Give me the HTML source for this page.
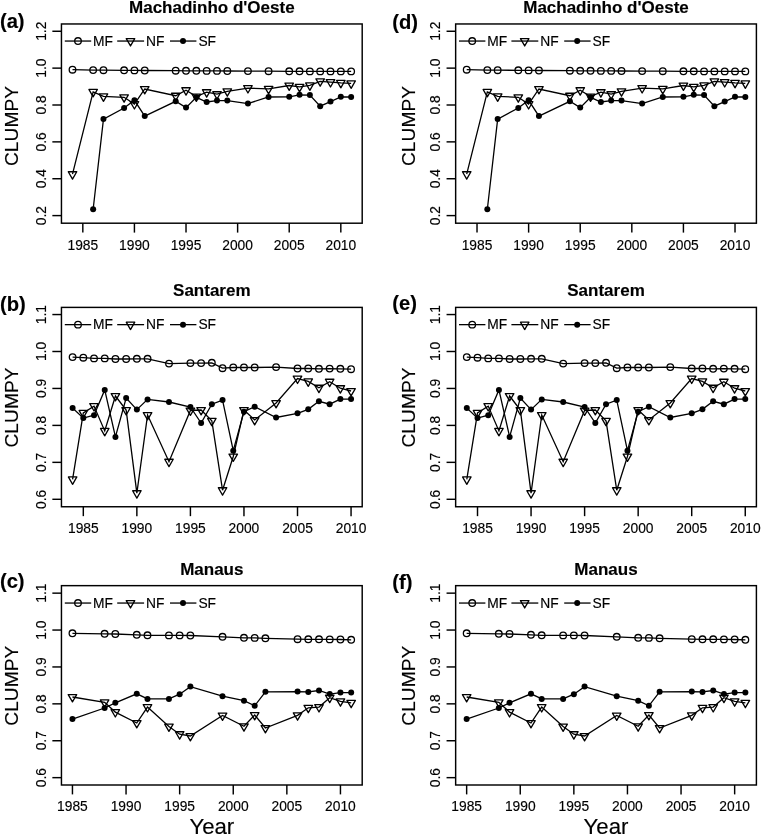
<!DOCTYPE html>
<html><head><meta charset="utf-8"><title>CLUMPY</title>
<style>html,body{margin:0;padding:0;background:#fff}body{width:761px;height:835px;overflow:hidden;font-family:"Liberation Sans",sans-serif}svg{display:block;will-change:transform}text{stroke:#000;stroke-width:0.15px}</style>
</head><body>
<svg width="761" height="835" viewBox="0 0 761 835">
<rect width="761" height="835" fill="#fff"/>
<g transform="translate(0.0,0)">
<rect x="61.45" y="23.97" width="300.75" height="199.23" fill="none" stroke="#000" stroke-width="1.45"/>
<line x1="52.35" y1="31.26" x2="61.45" y2="31.26" stroke="#000" stroke-width="1.45"/>
<text transform="translate(46.0,31.26) rotate(-90)" text-anchor="middle" font-size="13.8" font-family="Liberation Sans, sans-serif">1.2</text>
<line x1="52.35" y1="68.13" x2="61.45" y2="68.13" stroke="#000" stroke-width="1.45"/>
<text transform="translate(46.0,68.13) rotate(-90)" text-anchor="middle" font-size="13.8" font-family="Liberation Sans, sans-serif">1.0</text>
<line x1="52.35" y1="105.0" x2="61.45" y2="105.0" stroke="#000" stroke-width="1.45"/>
<text transform="translate(46.0,105.0) rotate(-90)" text-anchor="middle" font-size="13.8" font-family="Liberation Sans, sans-serif">0.8</text>
<line x1="52.35" y1="141.87" x2="61.45" y2="141.87" stroke="#000" stroke-width="1.45"/>
<text transform="translate(46.0,141.87) rotate(-90)" text-anchor="middle" font-size="13.8" font-family="Liberation Sans, sans-serif">0.6</text>
<line x1="52.35" y1="178.74" x2="61.45" y2="178.74" stroke="#000" stroke-width="1.45"/>
<text transform="translate(46.0,178.74) rotate(-90)" text-anchor="middle" font-size="13.8" font-family="Liberation Sans, sans-serif">0.4</text>
<line x1="52.35" y1="215.6" x2="61.45" y2="215.6" stroke="#000" stroke-width="1.45"/>
<text transform="translate(46.0,215.6) rotate(-90)" text-anchor="middle" font-size="13.8" font-family="Liberation Sans, sans-serif">0.2</text>
<line x1="82.82" y1="223.2" x2="82.82" y2="232.6" stroke="#000" stroke-width="1.45"/>
<text x="82.82" y="249.60" text-anchor="middle" font-size="13.8" font-family="Liberation Sans, sans-serif">1985</text>
<line x1="134.42" y1="223.2" x2="134.42" y2="232.6" stroke="#000" stroke-width="1.45"/>
<text x="134.42" y="249.60" text-anchor="middle" font-size="13.8" font-family="Liberation Sans, sans-serif">1990</text>
<line x1="186.02" y1="223.2" x2="186.02" y2="232.6" stroke="#000" stroke-width="1.45"/>
<text x="186.02" y="249.60" text-anchor="middle" font-size="13.8" font-family="Liberation Sans, sans-serif">1995</text>
<line x1="237.62" y1="223.2" x2="237.62" y2="232.6" stroke="#000" stroke-width="1.45"/>
<text x="237.62" y="249.60" text-anchor="middle" font-size="13.8" font-family="Liberation Sans, sans-serif">2000</text>
<line x1="289.22" y1="223.2" x2="289.22" y2="232.6" stroke="#000" stroke-width="1.45"/>
<text x="289.22" y="249.60" text-anchor="middle" font-size="13.8" font-family="Liberation Sans, sans-serif">2005</text>
<line x1="340.82" y1="223.2" x2="340.82" y2="232.6" stroke="#000" stroke-width="1.45"/>
<text x="340.82" y="249.60" text-anchor="middle" font-size="13.8" font-family="Liberation Sans, sans-serif">2010</text>
<text x="211.82" y="12.6" text-anchor="middle" font-weight="bold" font-size="17" font-family="Liberation Sans, sans-serif">Machadinho d&#39;Oeste</text>
<text x="-0.10" y="27.80" font-weight="bold" font-size="20.2" font-family="Liberation Sans, sans-serif">(a)</text>
<text transform="translate(17.6,126.0) rotate(-90)" text-anchor="middle" font-size="19.2" font-family="Liberation Sans, sans-serif">CLUMPY</text>
<line x1="64.8" y1="41.05" x2="91.2" y2="41.05" stroke="#000" stroke-width="1.3"/>
<circle cx="78.00" cy="41.05" r="3.3" fill="none" stroke="#000" stroke-width="1.3"/>
<text x="93.0" y="45.85" font-size="13.8" font-family="Liberation Sans, sans-serif">MF</text>
<line x1="117.2" y1="41.05" x2="144.1" y2="41.05" stroke="#000" stroke-width="1.3"/>
<path d="M126.25 38.60L134.75 38.60L130.50 45.95Z" fill="none" stroke="#000" stroke-width="1.3" stroke-linejoin="round"/>
<text x="146.0" y="45.85" font-size="13.8" font-family="Liberation Sans, sans-serif">NF</text>
<line x1="170.0" y1="41.05" x2="196.4" y2="41.05" stroke="#000" stroke-width="1.3"/>
<circle cx="183.00" cy="41.05" r="3.0" fill="#000"/>
<text x="198.4" y="45.85" font-size="13.8" font-family="Liberation Sans, sans-serif">SF</text>
<polyline points="72.50,69.70 93.14,70.10 103.46,70.20 124.10,70.30 134.42,70.40 144.74,70.50 175.70,70.70 186.02,70.80 196.34,70.80 206.66,70.90 216.98,70.90 227.30,71.00 247.94,71.10 268.58,71.20 289.22,71.30 299.54,71.30 309.86,71.40 320.18,71.40 330.50,71.40 340.82,71.40 351.14,71.40" fill="none" stroke="#000" stroke-width="1.3"/>
<circle cx="72.50" cy="69.70" r="3.3" fill="none" stroke="#000" stroke-width="1.3"/>
<circle cx="93.14" cy="70.10" r="3.3" fill="none" stroke="#000" stroke-width="1.3"/>
<circle cx="103.46" cy="70.20" r="3.3" fill="none" stroke="#000" stroke-width="1.3"/>
<circle cx="124.10" cy="70.30" r="3.3" fill="none" stroke="#000" stroke-width="1.3"/>
<circle cx="134.42" cy="70.40" r="3.3" fill="none" stroke="#000" stroke-width="1.3"/>
<circle cx="144.74" cy="70.50" r="3.3" fill="none" stroke="#000" stroke-width="1.3"/>
<circle cx="175.70" cy="70.70" r="3.3" fill="none" stroke="#000" stroke-width="1.3"/>
<circle cx="186.02" cy="70.80" r="3.3" fill="none" stroke="#000" stroke-width="1.3"/>
<circle cx="196.34" cy="70.80" r="3.3" fill="none" stroke="#000" stroke-width="1.3"/>
<circle cx="206.66" cy="70.90" r="3.3" fill="none" stroke="#000" stroke-width="1.3"/>
<circle cx="216.98" cy="70.90" r="3.3" fill="none" stroke="#000" stroke-width="1.3"/>
<circle cx="227.30" cy="71.00" r="3.3" fill="none" stroke="#000" stroke-width="1.3"/>
<circle cx="247.94" cy="71.10" r="3.3" fill="none" stroke="#000" stroke-width="1.3"/>
<circle cx="268.58" cy="71.20" r="3.3" fill="none" stroke="#000" stroke-width="1.3"/>
<circle cx="289.22" cy="71.30" r="3.3" fill="none" stroke="#000" stroke-width="1.3"/>
<circle cx="299.54" cy="71.30" r="3.3" fill="none" stroke="#000" stroke-width="1.3"/>
<circle cx="309.86" cy="71.40" r="3.3" fill="none" stroke="#000" stroke-width="1.3"/>
<circle cx="320.18" cy="71.40" r="3.3" fill="none" stroke="#000" stroke-width="1.3"/>
<circle cx="330.50" cy="71.40" r="3.3" fill="none" stroke="#000" stroke-width="1.3"/>
<circle cx="340.82" cy="71.40" r="3.3" fill="none" stroke="#000" stroke-width="1.3"/>
<circle cx="351.14" cy="71.40" r="3.3" fill="none" stroke="#000" stroke-width="1.3"/>
<polyline points="72.50,174.20 93.14,91.90 103.46,96.40 124.10,97.30 134.42,104.10 144.74,89.00 175.70,95.70 186.02,90.20 196.34,96.50 206.66,92.20 216.98,94.20 227.30,91.30 247.94,88.10 268.58,88.90 289.22,85.50 299.54,86.90 309.86,85.40 320.18,81.30 330.50,82.10 340.82,82.90 351.14,83.40" fill="none" stroke="#000" stroke-width="1.3"/>
<path d="M68.25 171.75L76.75 171.75L72.50 179.10Z" fill="none" stroke="#000" stroke-width="1.3" stroke-linejoin="round"/>
<path d="M88.89 89.45L97.39 89.45L93.14 96.80Z" fill="none" stroke="#000" stroke-width="1.3" stroke-linejoin="round"/>
<path d="M99.21 93.95L107.71 93.95L103.46 101.30Z" fill="none" stroke="#000" stroke-width="1.3" stroke-linejoin="round"/>
<path d="M119.85 94.85L128.35 94.85L124.10 102.20Z" fill="none" stroke="#000" stroke-width="1.3" stroke-linejoin="round"/>
<path d="M130.17 101.65L138.67 101.65L134.42 109.00Z" fill="none" stroke="#000" stroke-width="1.3" stroke-linejoin="round"/>
<path d="M140.49 86.55L148.99 86.55L144.74 93.90Z" fill="none" stroke="#000" stroke-width="1.3" stroke-linejoin="round"/>
<path d="M171.45 93.25L179.95 93.25L175.70 100.60Z" fill="none" stroke="#000" stroke-width="1.3" stroke-linejoin="round"/>
<path d="M181.77 87.75L190.27 87.75L186.02 95.10Z" fill="none" stroke="#000" stroke-width="1.3" stroke-linejoin="round"/>
<path d="M192.09 94.05L200.59 94.05L196.34 101.40Z" fill="none" stroke="#000" stroke-width="1.3" stroke-linejoin="round"/>
<path d="M202.41 89.75L210.91 89.75L206.66 97.10Z" fill="none" stroke="#000" stroke-width="1.3" stroke-linejoin="round"/>
<path d="M212.73 91.75L221.23 91.75L216.98 99.10Z" fill="none" stroke="#000" stroke-width="1.3" stroke-linejoin="round"/>
<path d="M223.05 88.85L231.55 88.85L227.30 96.20Z" fill="none" stroke="#000" stroke-width="1.3" stroke-linejoin="round"/>
<path d="M243.69 85.65L252.19 85.65L247.94 93.00Z" fill="none" stroke="#000" stroke-width="1.3" stroke-linejoin="round"/>
<path d="M264.33 86.45L272.83 86.45L268.58 93.80Z" fill="none" stroke="#000" stroke-width="1.3" stroke-linejoin="round"/>
<path d="M284.97 83.05L293.47 83.05L289.22 90.40Z" fill="none" stroke="#000" stroke-width="1.3" stroke-linejoin="round"/>
<path d="M295.29 84.45L303.79 84.45L299.54 91.80Z" fill="none" stroke="#000" stroke-width="1.3" stroke-linejoin="round"/>
<path d="M305.61 82.95L314.11 82.95L309.86 90.30Z" fill="none" stroke="#000" stroke-width="1.3" stroke-linejoin="round"/>
<path d="M315.93 78.85L324.43 78.85L320.18 86.20Z" fill="none" stroke="#000" stroke-width="1.3" stroke-linejoin="round"/>
<path d="M326.25 79.65L334.75 79.65L330.50 87.00Z" fill="none" stroke="#000" stroke-width="1.3" stroke-linejoin="round"/>
<path d="M336.57 80.45L345.07 80.45L340.82 87.80Z" fill="none" stroke="#000" stroke-width="1.3" stroke-linejoin="round"/>
<path d="M346.89 80.95L355.39 80.95L351.14 88.30Z" fill="none" stroke="#000" stroke-width="1.3" stroke-linejoin="round"/>
<polyline points="93.14,209.20 103.46,119.10 124.10,108.00 134.42,100.30 144.74,116.10 175.70,101.30 186.02,107.60 196.34,97.30 206.66,102.00 216.98,100.60 227.30,100.60 247.94,103.60 268.58,97.00 289.22,96.80 299.54,94.80 309.86,95.10 320.18,106.20 330.50,101.60 340.82,96.80 351.14,97.00" fill="none" stroke="#000" stroke-width="1.3"/>
<circle cx="93.14" cy="209.20" r="3.0" fill="#000"/>
<circle cx="103.46" cy="119.10" r="3.0" fill="#000"/>
<circle cx="124.10" cy="108.00" r="3.0" fill="#000"/>
<circle cx="134.42" cy="100.30" r="3.0" fill="#000"/>
<circle cx="144.74" cy="116.10" r="3.0" fill="#000"/>
<circle cx="175.70" cy="101.30" r="3.0" fill="#000"/>
<circle cx="186.02" cy="107.60" r="3.0" fill="#000"/>
<circle cx="196.34" cy="97.30" r="3.0" fill="#000"/>
<circle cx="206.66" cy="102.00" r="3.0" fill="#000"/>
<circle cx="216.98" cy="100.60" r="3.0" fill="#000"/>
<circle cx="227.30" cy="100.60" r="3.0" fill="#000"/>
<circle cx="247.94" cy="103.60" r="3.0" fill="#000"/>
<circle cx="268.58" cy="97.00" r="3.0" fill="#000"/>
<circle cx="289.22" cy="96.80" r="3.0" fill="#000"/>
<circle cx="299.54" cy="94.80" r="3.0" fill="#000"/>
<circle cx="309.86" cy="95.10" r="3.0" fill="#000"/>
<circle cx="320.18" cy="106.20" r="3.0" fill="#000"/>
<circle cx="330.50" cy="101.60" r="3.0" fill="#000"/>
<circle cx="340.82" cy="96.80" r="3.0" fill="#000"/>
<circle cx="351.14" cy="97.00" r="3.0" fill="#000"/>
</g>
<g transform="translate(0.0,0)">
<rect x="61.45" y="307.4" width="300.75" height="199.35000000000002" fill="none" stroke="#000" stroke-width="1.45"/>
<line x1="52.35" y1="314.55" x2="61.45" y2="314.55" stroke="#000" stroke-width="1.45"/>
<text transform="translate(46.0,314.55) rotate(-90)" text-anchor="middle" font-size="13.8" font-family="Liberation Sans, sans-serif">1.1</text>
<line x1="52.35" y1="351.5" x2="61.45" y2="351.5" stroke="#000" stroke-width="1.45"/>
<text transform="translate(46.0,351.5) rotate(-90)" text-anchor="middle" font-size="13.8" font-family="Liberation Sans, sans-serif">1.0</text>
<line x1="52.35" y1="388.45" x2="61.45" y2="388.45" stroke="#000" stroke-width="1.45"/>
<text transform="translate(46.0,388.45) rotate(-90)" text-anchor="middle" font-size="13.8" font-family="Liberation Sans, sans-serif">0.9</text>
<line x1="52.35" y1="425.4" x2="61.45" y2="425.4" stroke="#000" stroke-width="1.45"/>
<text transform="translate(46.0,425.4) rotate(-90)" text-anchor="middle" font-size="13.8" font-family="Liberation Sans, sans-serif">0.8</text>
<line x1="52.35" y1="462.35" x2="61.45" y2="462.35" stroke="#000" stroke-width="1.45"/>
<text transform="translate(46.0,462.35) rotate(-90)" text-anchor="middle" font-size="13.8" font-family="Liberation Sans, sans-serif">0.7</text>
<line x1="52.35" y1="499.3" x2="61.45" y2="499.3" stroke="#000" stroke-width="1.45"/>
<text transform="translate(46.0,499.3) rotate(-90)" text-anchor="middle" font-size="13.8" font-family="Liberation Sans, sans-serif">0.6</text>
<line x1="83.31" y1="506.75" x2="83.31" y2="516.15" stroke="#000" stroke-width="1.45"/>
<text x="83.31" y="533.15" text-anchor="middle" font-size="13.8" font-family="Liberation Sans, sans-serif">1985</text>
<line x1="136.86" y1="506.75" x2="136.86" y2="516.15" stroke="#000" stroke-width="1.45"/>
<text x="136.86" y="533.15" text-anchor="middle" font-size="13.8" font-family="Liberation Sans, sans-serif">1990</text>
<line x1="190.41" y1="506.75" x2="190.41" y2="516.15" stroke="#000" stroke-width="1.45"/>
<text x="190.41" y="533.15" text-anchor="middle" font-size="13.8" font-family="Liberation Sans, sans-serif">1995</text>
<line x1="243.96" y1="506.75" x2="243.96" y2="516.15" stroke="#000" stroke-width="1.45"/>
<text x="243.96" y="533.15" text-anchor="middle" font-size="13.8" font-family="Liberation Sans, sans-serif">2000</text>
<line x1="297.51" y1="506.75" x2="297.51" y2="516.15" stroke="#000" stroke-width="1.45"/>
<text x="297.51" y="533.15" text-anchor="middle" font-size="13.8" font-family="Liberation Sans, sans-serif">2005</text>
<line x1="351.06" y1="506.75" x2="351.06" y2="516.15" stroke="#000" stroke-width="1.45"/>
<text x="351.06" y="533.15" text-anchor="middle" font-size="13.8" font-family="Liberation Sans, sans-serif">2010</text>
<text x="211.82" y="296.3" text-anchor="middle" font-weight="bold" font-size="17" font-family="Liberation Sans, sans-serif">Santarem</text>
<text x="-0.10" y="310.50" font-weight="bold" font-size="20.2" font-family="Liberation Sans, sans-serif">(b)</text>
<text transform="translate(17.6,407.5) rotate(-90)" text-anchor="middle" font-size="19.2" font-family="Liberation Sans, sans-serif">CLUMPY</text>
<line x1="64.8" y1="324.65" x2="91.2" y2="324.65" stroke="#000" stroke-width="1.3"/>
<circle cx="78.00" cy="324.65" r="3.3" fill="none" stroke="#000" stroke-width="1.3"/>
<text x="93.0" y="329.45" font-size="13.8" font-family="Liberation Sans, sans-serif">MF</text>
<line x1="117.2" y1="324.65" x2="144.1" y2="324.65" stroke="#000" stroke-width="1.3"/>
<path d="M126.25 322.20L134.75 322.20L130.50 329.55Z" fill="none" stroke="#000" stroke-width="1.3" stroke-linejoin="round"/>
<text x="146.0" y="329.45" font-size="13.8" font-family="Liberation Sans, sans-serif">NF</text>
<line x1="170.0" y1="324.65" x2="196.4" y2="324.65" stroke="#000" stroke-width="1.3"/>
<circle cx="183.00" cy="324.65" r="3.0" fill="#000"/>
<text x="198.4" y="329.45" font-size="13.8" font-family="Liberation Sans, sans-serif">SF</text>
<polyline points="72.60,357.10 83.31,357.70 94.02,358.40 104.73,358.40 115.44,359.00 126.15,359.00 136.86,358.80 147.57,358.80 168.99,363.60 190.41,363.10 201.12,363.10 211.83,362.80 222.54,368.20 233.25,367.50 243.96,367.50 254.67,367.50 276.09,367.10 297.51,368.50 308.22,368.50 318.93,368.80 329.64,368.60 340.35,368.80 351.06,369.20" fill="none" stroke="#000" stroke-width="1.3"/>
<circle cx="72.60" cy="357.10" r="3.3" fill="none" stroke="#000" stroke-width="1.3"/>
<circle cx="83.31" cy="357.70" r="3.3" fill="none" stroke="#000" stroke-width="1.3"/>
<circle cx="94.02" cy="358.40" r="3.3" fill="none" stroke="#000" stroke-width="1.3"/>
<circle cx="104.73" cy="358.40" r="3.3" fill="none" stroke="#000" stroke-width="1.3"/>
<circle cx="115.44" cy="359.00" r="3.3" fill="none" stroke="#000" stroke-width="1.3"/>
<circle cx="126.15" cy="359.00" r="3.3" fill="none" stroke="#000" stroke-width="1.3"/>
<circle cx="136.86" cy="358.80" r="3.3" fill="none" stroke="#000" stroke-width="1.3"/>
<circle cx="147.57" cy="358.80" r="3.3" fill="none" stroke="#000" stroke-width="1.3"/>
<circle cx="168.99" cy="363.60" r="3.3" fill="none" stroke="#000" stroke-width="1.3"/>
<circle cx="190.41" cy="363.10" r="3.3" fill="none" stroke="#000" stroke-width="1.3"/>
<circle cx="201.12" cy="363.10" r="3.3" fill="none" stroke="#000" stroke-width="1.3"/>
<circle cx="211.83" cy="362.80" r="3.3" fill="none" stroke="#000" stroke-width="1.3"/>
<circle cx="222.54" cy="368.20" r="3.3" fill="none" stroke="#000" stroke-width="1.3"/>
<circle cx="233.25" cy="367.50" r="3.3" fill="none" stroke="#000" stroke-width="1.3"/>
<circle cx="243.96" cy="367.50" r="3.3" fill="none" stroke="#000" stroke-width="1.3"/>
<circle cx="254.67" cy="367.50" r="3.3" fill="none" stroke="#000" stroke-width="1.3"/>
<circle cx="276.09" cy="367.10" r="3.3" fill="none" stroke="#000" stroke-width="1.3"/>
<circle cx="297.51" cy="368.50" r="3.3" fill="none" stroke="#000" stroke-width="1.3"/>
<circle cx="308.22" cy="368.50" r="3.3" fill="none" stroke="#000" stroke-width="1.3"/>
<circle cx="318.93" cy="368.80" r="3.3" fill="none" stroke="#000" stroke-width="1.3"/>
<circle cx="329.64" cy="368.60" r="3.3" fill="none" stroke="#000" stroke-width="1.3"/>
<circle cx="340.35" cy="368.80" r="3.3" fill="none" stroke="#000" stroke-width="1.3"/>
<circle cx="351.06" cy="369.20" r="3.3" fill="none" stroke="#000" stroke-width="1.3"/>
<polyline points="72.60,479.40 83.31,412.90 94.02,406.10 104.73,430.90 115.44,396.00 126.15,410.10 136.86,493.20 147.57,415.00 168.99,461.70 190.41,410.50 201.12,410.00 211.83,420.90 222.54,490.20 233.25,456.50 243.96,410.00 254.67,420.00 276.09,403.00 297.51,378.60 308.22,381.40 318.93,387.70 329.64,381.70 340.35,388.20 351.06,391.00" fill="none" stroke="#000" stroke-width="1.3"/>
<path d="M68.35 476.95L76.85 476.95L72.60 484.30Z" fill="none" stroke="#000" stroke-width="1.3" stroke-linejoin="round"/>
<path d="M79.06 410.45L87.56 410.45L83.31 417.80Z" fill="none" stroke="#000" stroke-width="1.3" stroke-linejoin="round"/>
<path d="M89.77 403.65L98.27 403.65L94.02 411.00Z" fill="none" stroke="#000" stroke-width="1.3" stroke-linejoin="round"/>
<path d="M100.48 428.45L108.98 428.45L104.73 435.80Z" fill="none" stroke="#000" stroke-width="1.3" stroke-linejoin="round"/>
<path d="M111.19 393.55L119.69 393.55L115.44 400.90Z" fill="none" stroke="#000" stroke-width="1.3" stroke-linejoin="round"/>
<path d="M121.90 407.65L130.40 407.65L126.15 415.00Z" fill="none" stroke="#000" stroke-width="1.3" stroke-linejoin="round"/>
<path d="M132.61 490.75L141.11 490.75L136.86 498.10Z" fill="none" stroke="#000" stroke-width="1.3" stroke-linejoin="round"/>
<path d="M143.32 412.55L151.82 412.55L147.57 419.90Z" fill="none" stroke="#000" stroke-width="1.3" stroke-linejoin="round"/>
<path d="M164.74 459.25L173.24 459.25L168.99 466.60Z" fill="none" stroke="#000" stroke-width="1.3" stroke-linejoin="round"/>
<path d="M186.16 408.05L194.66 408.05L190.41 415.40Z" fill="none" stroke="#000" stroke-width="1.3" stroke-linejoin="round"/>
<path d="M196.87 407.55L205.37 407.55L201.12 414.90Z" fill="none" stroke="#000" stroke-width="1.3" stroke-linejoin="round"/>
<path d="M207.58 418.45L216.08 418.45L211.83 425.80Z" fill="none" stroke="#000" stroke-width="1.3" stroke-linejoin="round"/>
<path d="M218.29 487.75L226.79 487.75L222.54 495.10Z" fill="none" stroke="#000" stroke-width="1.3" stroke-linejoin="round"/>
<path d="M229.00 454.05L237.50 454.05L233.25 461.40Z" fill="none" stroke="#000" stroke-width="1.3" stroke-linejoin="round"/>
<path d="M239.71 407.55L248.21 407.55L243.96 414.90Z" fill="none" stroke="#000" stroke-width="1.3" stroke-linejoin="round"/>
<path d="M250.42 417.55L258.92 417.55L254.67 424.90Z" fill="none" stroke="#000" stroke-width="1.3" stroke-linejoin="round"/>
<path d="M271.84 400.55L280.34 400.55L276.09 407.90Z" fill="none" stroke="#000" stroke-width="1.3" stroke-linejoin="round"/>
<path d="M293.26 376.15L301.76 376.15L297.51 383.50Z" fill="none" stroke="#000" stroke-width="1.3" stroke-linejoin="round"/>
<path d="M303.97 378.95L312.47 378.95L308.22 386.30Z" fill="none" stroke="#000" stroke-width="1.3" stroke-linejoin="round"/>
<path d="M314.68 385.25L323.18 385.25L318.93 392.60Z" fill="none" stroke="#000" stroke-width="1.3" stroke-linejoin="round"/>
<path d="M325.39 379.25L333.89 379.25L329.64 386.60Z" fill="none" stroke="#000" stroke-width="1.3" stroke-linejoin="round"/>
<path d="M336.10 385.75L344.60 385.75L340.35 393.10Z" fill="none" stroke="#000" stroke-width="1.3" stroke-linejoin="round"/>
<path d="M346.81 388.55L355.31 388.55L351.06 395.90Z" fill="none" stroke="#000" stroke-width="1.3" stroke-linejoin="round"/>
<polyline points="72.60,408.00 83.31,418.10 94.02,415.20 104.73,389.90 115.44,436.90 126.15,398.10 136.86,409.60 147.57,399.40 168.99,402.00 190.41,407.00 201.12,423.00 211.83,404.20 222.54,400.10 233.25,450.70 243.96,411.70 254.67,406.70 276.09,417.50 297.51,413.30 308.22,409.30 318.93,401.30 329.64,404.20 340.35,399.10 351.06,399.10" fill="none" stroke="#000" stroke-width="1.3"/>
<circle cx="72.60" cy="408.00" r="3.0" fill="#000"/>
<circle cx="83.31" cy="418.10" r="3.0" fill="#000"/>
<circle cx="94.02" cy="415.20" r="3.0" fill="#000"/>
<circle cx="104.73" cy="389.90" r="3.0" fill="#000"/>
<circle cx="115.44" cy="436.90" r="3.0" fill="#000"/>
<circle cx="126.15" cy="398.10" r="3.0" fill="#000"/>
<circle cx="136.86" cy="409.60" r="3.0" fill="#000"/>
<circle cx="147.57" cy="399.40" r="3.0" fill="#000"/>
<circle cx="168.99" cy="402.00" r="3.0" fill="#000"/>
<circle cx="190.41" cy="407.00" r="3.0" fill="#000"/>
<circle cx="201.12" cy="423.00" r="3.0" fill="#000"/>
<circle cx="211.83" cy="404.20" r="3.0" fill="#000"/>
<circle cx="222.54" cy="400.10" r="3.0" fill="#000"/>
<circle cx="233.25" cy="450.70" r="3.0" fill="#000"/>
<circle cx="243.96" cy="411.70" r="3.0" fill="#000"/>
<circle cx="254.67" cy="406.70" r="3.0" fill="#000"/>
<circle cx="276.09" cy="417.50" r="3.0" fill="#000"/>
<circle cx="297.51" cy="413.30" r="3.0" fill="#000"/>
<circle cx="308.22" cy="409.30" r="3.0" fill="#000"/>
<circle cx="318.93" cy="401.30" r="3.0" fill="#000"/>
<circle cx="329.64" cy="404.20" r="3.0" fill="#000"/>
<circle cx="340.35" cy="399.10" r="3.0" fill="#000"/>
<circle cx="351.06" cy="399.10" r="3.0" fill="#000"/>
</g>
<g transform="translate(0.0,0)">
<rect x="61.45" y="585.65" width="300.75" height="199.35000000000002" fill="none" stroke="#000" stroke-width="1.45"/>
<line x1="52.35" y1="593.15" x2="61.45" y2="593.15" stroke="#000" stroke-width="1.45"/>
<text transform="translate(46.0,593.15) rotate(-90)" text-anchor="middle" font-size="13.8" font-family="Liberation Sans, sans-serif">1.1</text>
<line x1="52.35" y1="630.05" x2="61.45" y2="630.05" stroke="#000" stroke-width="1.45"/>
<text transform="translate(46.0,630.05) rotate(-90)" text-anchor="middle" font-size="13.8" font-family="Liberation Sans, sans-serif">1.0</text>
<line x1="52.35" y1="666.95" x2="61.45" y2="666.95" stroke="#000" stroke-width="1.45"/>
<text transform="translate(46.0,666.95) rotate(-90)" text-anchor="middle" font-size="13.8" font-family="Liberation Sans, sans-serif">0.9</text>
<line x1="52.35" y1="703.85" x2="61.45" y2="703.85" stroke="#000" stroke-width="1.45"/>
<text transform="translate(46.0,703.85) rotate(-90)" text-anchor="middle" font-size="13.8" font-family="Liberation Sans, sans-serif">0.8</text>
<line x1="52.35" y1="740.75" x2="61.45" y2="740.75" stroke="#000" stroke-width="1.45"/>
<text transform="translate(46.0,740.75) rotate(-90)" text-anchor="middle" font-size="13.8" font-family="Liberation Sans, sans-serif">0.7</text>
<line x1="52.35" y1="777.65" x2="61.45" y2="777.65" stroke="#000" stroke-width="1.45"/>
<text transform="translate(46.0,777.65) rotate(-90)" text-anchor="middle" font-size="13.8" font-family="Liberation Sans, sans-serif">0.6</text>
<line x1="72.45" y1="785.0" x2="72.45" y2="794.4" stroke="#000" stroke-width="1.45"/>
<text x="72.45" y="811.40" text-anchor="middle" font-size="13.8" font-family="Liberation Sans, sans-serif">1985</text>
<line x1="126.05" y1="785.0" x2="126.05" y2="794.4" stroke="#000" stroke-width="1.45"/>
<text x="126.05" y="811.40" text-anchor="middle" font-size="13.8" font-family="Liberation Sans, sans-serif">1990</text>
<line x1="179.65" y1="785.0" x2="179.65" y2="794.4" stroke="#000" stroke-width="1.45"/>
<text x="179.65" y="811.40" text-anchor="middle" font-size="13.8" font-family="Liberation Sans, sans-serif">1995</text>
<line x1="233.25" y1="785.0" x2="233.25" y2="794.4" stroke="#000" stroke-width="1.45"/>
<text x="233.25" y="811.40" text-anchor="middle" font-size="13.8" font-family="Liberation Sans, sans-serif">2000</text>
<line x1="286.85" y1="785.0" x2="286.85" y2="794.4" stroke="#000" stroke-width="1.45"/>
<text x="286.85" y="811.40" text-anchor="middle" font-size="13.8" font-family="Liberation Sans, sans-serif">2005</text>
<line x1="340.45" y1="785.0" x2="340.45" y2="794.4" stroke="#000" stroke-width="1.45"/>
<text x="340.45" y="811.40" text-anchor="middle" font-size="13.8" font-family="Liberation Sans, sans-serif">2010</text>
<text x="211.82" y="574.5" text-anchor="middle" font-weight="bold" font-size="17" font-family="Liberation Sans, sans-serif">Manaus</text>
<text x="-0.10" y="587.90" font-weight="bold" font-size="20.2" font-family="Liberation Sans, sans-serif">(c)</text>
<text transform="translate(17.6,685.7) rotate(-90)" text-anchor="middle" font-size="19.2" font-family="Liberation Sans, sans-serif">CLUMPY</text>
<line x1="64.8" y1="603.05" x2="91.2" y2="603.05" stroke="#000" stroke-width="1.3"/>
<circle cx="78.00" cy="603.05" r="3.3" fill="none" stroke="#000" stroke-width="1.3"/>
<text x="93.0" y="607.85" font-size="13.8" font-family="Liberation Sans, sans-serif">MF</text>
<line x1="117.2" y1="603.05" x2="144.1" y2="603.05" stroke="#000" stroke-width="1.3"/>
<path d="M126.25 600.60L134.75 600.60L130.50 607.95Z" fill="none" stroke="#000" stroke-width="1.3" stroke-linejoin="round"/>
<text x="146.0" y="607.85" font-size="13.8" font-family="Liberation Sans, sans-serif">NF</text>
<line x1="170.0" y1="603.05" x2="196.4" y2="603.05" stroke="#000" stroke-width="1.3"/>
<circle cx="183.00" cy="603.05" r="3.0" fill="#000"/>
<text x="198.4" y="607.85" font-size="13.8" font-family="Liberation Sans, sans-serif">SF</text>
<polyline points="72.45,633.30 104.61,633.80 115.33,634.00 136.77,634.80 147.49,635.30 168.93,635.40 179.65,635.40 190.37,635.50 222.53,636.80 243.97,637.80 254.69,637.90 265.41,638.30 297.57,639.20 308.29,639.30 319.01,639.30 329.73,639.40 340.45,639.50 351.17,639.80" fill="none" stroke="#000" stroke-width="1.3"/>
<circle cx="72.45" cy="633.30" r="3.3" fill="none" stroke="#000" stroke-width="1.3"/>
<circle cx="104.61" cy="633.80" r="3.3" fill="none" stroke="#000" stroke-width="1.3"/>
<circle cx="115.33" cy="634.00" r="3.3" fill="none" stroke="#000" stroke-width="1.3"/>
<circle cx="136.77" cy="634.80" r="3.3" fill="none" stroke="#000" stroke-width="1.3"/>
<circle cx="147.49" cy="635.30" r="3.3" fill="none" stroke="#000" stroke-width="1.3"/>
<circle cx="168.93" cy="635.40" r="3.3" fill="none" stroke="#000" stroke-width="1.3"/>
<circle cx="179.65" cy="635.40" r="3.3" fill="none" stroke="#000" stroke-width="1.3"/>
<circle cx="190.37" cy="635.50" r="3.3" fill="none" stroke="#000" stroke-width="1.3"/>
<circle cx="222.53" cy="636.80" r="3.3" fill="none" stroke="#000" stroke-width="1.3"/>
<circle cx="243.97" cy="637.80" r="3.3" fill="none" stroke="#000" stroke-width="1.3"/>
<circle cx="254.69" cy="637.90" r="3.3" fill="none" stroke="#000" stroke-width="1.3"/>
<circle cx="265.41" cy="638.30" r="3.3" fill="none" stroke="#000" stroke-width="1.3"/>
<circle cx="297.57" cy="639.20" r="3.3" fill="none" stroke="#000" stroke-width="1.3"/>
<circle cx="308.29" cy="639.30" r="3.3" fill="none" stroke="#000" stroke-width="1.3"/>
<circle cx="319.01" cy="639.30" r="3.3" fill="none" stroke="#000" stroke-width="1.3"/>
<circle cx="329.73" cy="639.40" r="3.3" fill="none" stroke="#000" stroke-width="1.3"/>
<circle cx="340.45" cy="639.50" r="3.3" fill="none" stroke="#000" stroke-width="1.3"/>
<circle cx="351.17" cy="639.80" r="3.3" fill="none" stroke="#000" stroke-width="1.3"/>
<polyline points="72.45,697.00 104.61,702.30 115.33,712.10 136.77,723.00 147.49,707.10 168.93,726.50 179.65,734.20 190.37,736.00 222.53,715.50 243.97,726.30 254.69,715.00 265.41,728.00 297.57,715.30 308.29,707.80 319.01,707.10 329.73,697.70 340.45,701.30 351.17,702.80" fill="none" stroke="#000" stroke-width="1.3"/>
<path d="M68.20 694.55L76.70 694.55L72.45 701.90Z" fill="none" stroke="#000" stroke-width="1.3" stroke-linejoin="round"/>
<path d="M100.36 699.85L108.86 699.85L104.61 707.20Z" fill="none" stroke="#000" stroke-width="1.3" stroke-linejoin="round"/>
<path d="M111.08 709.65L119.58 709.65L115.33 717.00Z" fill="none" stroke="#000" stroke-width="1.3" stroke-linejoin="round"/>
<path d="M132.52 720.55L141.02 720.55L136.77 727.90Z" fill="none" stroke="#000" stroke-width="1.3" stroke-linejoin="round"/>
<path d="M143.24 704.65L151.74 704.65L147.49 712.00Z" fill="none" stroke="#000" stroke-width="1.3" stroke-linejoin="round"/>
<path d="M164.68 724.05L173.18 724.05L168.93 731.40Z" fill="none" stroke="#000" stroke-width="1.3" stroke-linejoin="round"/>
<path d="M175.40 731.75L183.90 731.75L179.65 739.10Z" fill="none" stroke="#000" stroke-width="1.3" stroke-linejoin="round"/>
<path d="M186.12 733.55L194.62 733.55L190.37 740.90Z" fill="none" stroke="#000" stroke-width="1.3" stroke-linejoin="round"/>
<path d="M218.28 713.05L226.78 713.05L222.53 720.40Z" fill="none" stroke="#000" stroke-width="1.3" stroke-linejoin="round"/>
<path d="M239.72 723.85L248.22 723.85L243.97 731.20Z" fill="none" stroke="#000" stroke-width="1.3" stroke-linejoin="round"/>
<path d="M250.44 712.55L258.94 712.55L254.69 719.90Z" fill="none" stroke="#000" stroke-width="1.3" stroke-linejoin="round"/>
<path d="M261.16 725.55L269.66 725.55L265.41 732.90Z" fill="none" stroke="#000" stroke-width="1.3" stroke-linejoin="round"/>
<path d="M293.32 712.85L301.82 712.85L297.57 720.20Z" fill="none" stroke="#000" stroke-width="1.3" stroke-linejoin="round"/>
<path d="M304.04 705.35L312.54 705.35L308.29 712.70Z" fill="none" stroke="#000" stroke-width="1.3" stroke-linejoin="round"/>
<path d="M314.76 704.65L323.26 704.65L319.01 712.00Z" fill="none" stroke="#000" stroke-width="1.3" stroke-linejoin="round"/>
<path d="M325.48 695.25L333.98 695.25L329.73 702.60Z" fill="none" stroke="#000" stroke-width="1.3" stroke-linejoin="round"/>
<path d="M336.20 698.85L344.70 698.85L340.45 706.20Z" fill="none" stroke="#000" stroke-width="1.3" stroke-linejoin="round"/>
<path d="M346.92 700.35L355.42 700.35L351.17 707.70Z" fill="none" stroke="#000" stroke-width="1.3" stroke-linejoin="round"/>
<polyline points="72.45,719.10 104.61,708.00 115.33,702.80 136.77,693.80 147.49,698.90 168.93,698.90 179.65,694.20 190.37,686.60 222.53,696.20 243.97,700.70 254.69,705.80 265.41,691.80 297.57,691.60 308.29,691.90 319.01,690.50 329.73,694.10 340.45,692.60 351.17,692.60" fill="none" stroke="#000" stroke-width="1.3"/>
<circle cx="72.45" cy="719.10" r="3.0" fill="#000"/>
<circle cx="104.61" cy="708.00" r="3.0" fill="#000"/>
<circle cx="115.33" cy="702.80" r="3.0" fill="#000"/>
<circle cx="136.77" cy="693.80" r="3.0" fill="#000"/>
<circle cx="147.49" cy="698.90" r="3.0" fill="#000"/>
<circle cx="168.93" cy="698.90" r="3.0" fill="#000"/>
<circle cx="179.65" cy="694.20" r="3.0" fill="#000"/>
<circle cx="190.37" cy="686.60" r="3.0" fill="#000"/>
<circle cx="222.53" cy="696.20" r="3.0" fill="#000"/>
<circle cx="243.97" cy="700.70" r="3.0" fill="#000"/>
<circle cx="254.69" cy="705.80" r="3.0" fill="#000"/>
<circle cx="265.41" cy="691.80" r="3.0" fill="#000"/>
<circle cx="297.57" cy="691.60" r="3.0" fill="#000"/>
<circle cx="308.29" cy="691.90" r="3.0" fill="#000"/>
<circle cx="319.01" cy="690.50" r="3.0" fill="#000"/>
<circle cx="329.73" cy="694.10" r="3.0" fill="#000"/>
<circle cx="340.45" cy="692.60" r="3.0" fill="#000"/>
<circle cx="351.17" cy="692.60" r="3.0" fill="#000"/>
</g>
<text x="211.82" y="833.5" text-anchor="middle" font-size="22.2" font-family="Liberation Sans, sans-serif">Year</text>
<g transform="translate(394.2,0)">
<rect x="61.45" y="23.97" width="300.75" height="199.23" fill="none" stroke="#000" stroke-width="1.45"/>
<line x1="52.35" y1="31.26" x2="61.45" y2="31.26" stroke="#000" stroke-width="1.45"/>
<text transform="translate(46.0,31.26) rotate(-90)" text-anchor="middle" font-size="13.8" font-family="Liberation Sans, sans-serif">1.2</text>
<line x1="52.35" y1="68.13" x2="61.45" y2="68.13" stroke="#000" stroke-width="1.45"/>
<text transform="translate(46.0,68.13) rotate(-90)" text-anchor="middle" font-size="13.8" font-family="Liberation Sans, sans-serif">1.0</text>
<line x1="52.35" y1="105.0" x2="61.45" y2="105.0" stroke="#000" stroke-width="1.45"/>
<text transform="translate(46.0,105.0) rotate(-90)" text-anchor="middle" font-size="13.8" font-family="Liberation Sans, sans-serif">0.8</text>
<line x1="52.35" y1="141.87" x2="61.45" y2="141.87" stroke="#000" stroke-width="1.45"/>
<text transform="translate(46.0,141.87) rotate(-90)" text-anchor="middle" font-size="13.8" font-family="Liberation Sans, sans-serif">0.6</text>
<line x1="52.35" y1="178.74" x2="61.45" y2="178.74" stroke="#000" stroke-width="1.45"/>
<text transform="translate(46.0,178.74) rotate(-90)" text-anchor="middle" font-size="13.8" font-family="Liberation Sans, sans-serif">0.4</text>
<line x1="52.35" y1="215.6" x2="61.45" y2="215.6" stroke="#000" stroke-width="1.45"/>
<text transform="translate(46.0,215.6) rotate(-90)" text-anchor="middle" font-size="13.8" font-family="Liberation Sans, sans-serif">0.2</text>
<line x1="82.82" y1="223.2" x2="82.82" y2="232.6" stroke="#000" stroke-width="1.45"/>
<text x="82.82" y="249.60" text-anchor="middle" font-size="13.8" font-family="Liberation Sans, sans-serif">1985</text>
<line x1="134.42" y1="223.2" x2="134.42" y2="232.6" stroke="#000" stroke-width="1.45"/>
<text x="134.42" y="249.60" text-anchor="middle" font-size="13.8" font-family="Liberation Sans, sans-serif">1990</text>
<line x1="186.02" y1="223.2" x2="186.02" y2="232.6" stroke="#000" stroke-width="1.45"/>
<text x="186.02" y="249.60" text-anchor="middle" font-size="13.8" font-family="Liberation Sans, sans-serif">1995</text>
<line x1="237.62" y1="223.2" x2="237.62" y2="232.6" stroke="#000" stroke-width="1.45"/>
<text x="237.62" y="249.60" text-anchor="middle" font-size="13.8" font-family="Liberation Sans, sans-serif">2000</text>
<line x1="289.22" y1="223.2" x2="289.22" y2="232.6" stroke="#000" stroke-width="1.45"/>
<text x="289.22" y="249.60" text-anchor="middle" font-size="13.8" font-family="Liberation Sans, sans-serif">2005</text>
<line x1="340.82" y1="223.2" x2="340.82" y2="232.6" stroke="#000" stroke-width="1.45"/>
<text x="340.82" y="249.60" text-anchor="middle" font-size="13.8" font-family="Liberation Sans, sans-serif">2010</text>
<text x="211.82" y="12.6" text-anchor="middle" font-weight="bold" font-size="17" font-family="Liberation Sans, sans-serif">Machadinho d&#39;Oeste</text>
<text x="-1.90" y="28.70" font-weight="bold" font-size="20.2" font-family="Liberation Sans, sans-serif">(d)</text>
<text transform="translate(20.6,126.0) rotate(-90)" text-anchor="middle" font-size="19.2" font-family="Liberation Sans, sans-serif">CLUMPY</text>
<line x1="64.8" y1="41.05" x2="91.2" y2="41.05" stroke="#000" stroke-width="1.3"/>
<circle cx="78.00" cy="41.05" r="3.3" fill="none" stroke="#000" stroke-width="1.3"/>
<text x="93.0" y="45.85" font-size="13.8" font-family="Liberation Sans, sans-serif">MF</text>
<line x1="117.2" y1="41.05" x2="144.1" y2="41.05" stroke="#000" stroke-width="1.3"/>
<path d="M126.25 38.60L134.75 38.60L130.50 45.95Z" fill="none" stroke="#000" stroke-width="1.3" stroke-linejoin="round"/>
<text x="146.0" y="45.85" font-size="13.8" font-family="Liberation Sans, sans-serif">NF</text>
<line x1="170.0" y1="41.05" x2="196.4" y2="41.05" stroke="#000" stroke-width="1.3"/>
<circle cx="183.00" cy="41.05" r="3.0" fill="#000"/>
<text x="198.4" y="45.85" font-size="13.8" font-family="Liberation Sans, sans-serif">SF</text>
<polyline points="72.50,69.70 93.14,70.10 103.46,70.20 124.10,70.30 134.42,70.40 144.74,70.50 175.70,70.70 186.02,70.80 196.34,70.80 206.66,70.90 216.98,70.90 227.30,71.00 247.94,71.10 268.58,71.20 289.22,71.30 299.54,71.30 309.86,71.40 320.18,71.40 330.50,71.40 340.82,71.40 351.14,71.40" fill="none" stroke="#000" stroke-width="1.3"/>
<circle cx="72.50" cy="69.70" r="3.3" fill="none" stroke="#000" stroke-width="1.3"/>
<circle cx="93.14" cy="70.10" r="3.3" fill="none" stroke="#000" stroke-width="1.3"/>
<circle cx="103.46" cy="70.20" r="3.3" fill="none" stroke="#000" stroke-width="1.3"/>
<circle cx="124.10" cy="70.30" r="3.3" fill="none" stroke="#000" stroke-width="1.3"/>
<circle cx="134.42" cy="70.40" r="3.3" fill="none" stroke="#000" stroke-width="1.3"/>
<circle cx="144.74" cy="70.50" r="3.3" fill="none" stroke="#000" stroke-width="1.3"/>
<circle cx="175.70" cy="70.70" r="3.3" fill="none" stroke="#000" stroke-width="1.3"/>
<circle cx="186.02" cy="70.80" r="3.3" fill="none" stroke="#000" stroke-width="1.3"/>
<circle cx="196.34" cy="70.80" r="3.3" fill="none" stroke="#000" stroke-width="1.3"/>
<circle cx="206.66" cy="70.90" r="3.3" fill="none" stroke="#000" stroke-width="1.3"/>
<circle cx="216.98" cy="70.90" r="3.3" fill="none" stroke="#000" stroke-width="1.3"/>
<circle cx="227.30" cy="71.00" r="3.3" fill="none" stroke="#000" stroke-width="1.3"/>
<circle cx="247.94" cy="71.10" r="3.3" fill="none" stroke="#000" stroke-width="1.3"/>
<circle cx="268.58" cy="71.20" r="3.3" fill="none" stroke="#000" stroke-width="1.3"/>
<circle cx="289.22" cy="71.30" r="3.3" fill="none" stroke="#000" stroke-width="1.3"/>
<circle cx="299.54" cy="71.30" r="3.3" fill="none" stroke="#000" stroke-width="1.3"/>
<circle cx="309.86" cy="71.40" r="3.3" fill="none" stroke="#000" stroke-width="1.3"/>
<circle cx="320.18" cy="71.40" r="3.3" fill="none" stroke="#000" stroke-width="1.3"/>
<circle cx="330.50" cy="71.40" r="3.3" fill="none" stroke="#000" stroke-width="1.3"/>
<circle cx="340.82" cy="71.40" r="3.3" fill="none" stroke="#000" stroke-width="1.3"/>
<circle cx="351.14" cy="71.40" r="3.3" fill="none" stroke="#000" stroke-width="1.3"/>
<polyline points="72.50,174.20 93.14,91.90 103.46,96.40 124.10,97.30 134.42,104.10 144.74,89.00 175.70,95.70 186.02,90.20 196.34,96.50 206.66,92.20 216.98,94.20 227.30,91.30 247.94,88.10 268.58,88.90 289.22,85.50 299.54,86.90 309.86,85.40 320.18,81.30 330.50,82.10 340.82,82.90 351.14,83.40" fill="none" stroke="#000" stroke-width="1.3"/>
<path d="M68.25 171.75L76.75 171.75L72.50 179.10Z" fill="none" stroke="#000" stroke-width="1.3" stroke-linejoin="round"/>
<path d="M88.89 89.45L97.39 89.45L93.14 96.80Z" fill="none" stroke="#000" stroke-width="1.3" stroke-linejoin="round"/>
<path d="M99.21 93.95L107.71 93.95L103.46 101.30Z" fill="none" stroke="#000" stroke-width="1.3" stroke-linejoin="round"/>
<path d="M119.85 94.85L128.35 94.85L124.10 102.20Z" fill="none" stroke="#000" stroke-width="1.3" stroke-linejoin="round"/>
<path d="M130.17 101.65L138.67 101.65L134.42 109.00Z" fill="none" stroke="#000" stroke-width="1.3" stroke-linejoin="round"/>
<path d="M140.49 86.55L148.99 86.55L144.74 93.90Z" fill="none" stroke="#000" stroke-width="1.3" stroke-linejoin="round"/>
<path d="M171.45 93.25L179.95 93.25L175.70 100.60Z" fill="none" stroke="#000" stroke-width="1.3" stroke-linejoin="round"/>
<path d="M181.77 87.75L190.27 87.75L186.02 95.10Z" fill="none" stroke="#000" stroke-width="1.3" stroke-linejoin="round"/>
<path d="M192.09 94.05L200.59 94.05L196.34 101.40Z" fill="none" stroke="#000" stroke-width="1.3" stroke-linejoin="round"/>
<path d="M202.41 89.75L210.91 89.75L206.66 97.10Z" fill="none" stroke="#000" stroke-width="1.3" stroke-linejoin="round"/>
<path d="M212.73 91.75L221.23 91.75L216.98 99.10Z" fill="none" stroke="#000" stroke-width="1.3" stroke-linejoin="round"/>
<path d="M223.05 88.85L231.55 88.85L227.30 96.20Z" fill="none" stroke="#000" stroke-width="1.3" stroke-linejoin="round"/>
<path d="M243.69 85.65L252.19 85.65L247.94 93.00Z" fill="none" stroke="#000" stroke-width="1.3" stroke-linejoin="round"/>
<path d="M264.33 86.45L272.83 86.45L268.58 93.80Z" fill="none" stroke="#000" stroke-width="1.3" stroke-linejoin="round"/>
<path d="M284.97 83.05L293.47 83.05L289.22 90.40Z" fill="none" stroke="#000" stroke-width="1.3" stroke-linejoin="round"/>
<path d="M295.29 84.45L303.79 84.45L299.54 91.80Z" fill="none" stroke="#000" stroke-width="1.3" stroke-linejoin="round"/>
<path d="M305.61 82.95L314.11 82.95L309.86 90.30Z" fill="none" stroke="#000" stroke-width="1.3" stroke-linejoin="round"/>
<path d="M315.93 78.85L324.43 78.85L320.18 86.20Z" fill="none" stroke="#000" stroke-width="1.3" stroke-linejoin="round"/>
<path d="M326.25 79.65L334.75 79.65L330.50 87.00Z" fill="none" stroke="#000" stroke-width="1.3" stroke-linejoin="round"/>
<path d="M336.57 80.45L345.07 80.45L340.82 87.80Z" fill="none" stroke="#000" stroke-width="1.3" stroke-linejoin="round"/>
<path d="M346.89 80.95L355.39 80.95L351.14 88.30Z" fill="none" stroke="#000" stroke-width="1.3" stroke-linejoin="round"/>
<polyline points="93.14,209.20 103.46,119.10 124.10,108.00 134.42,100.30 144.74,116.10 175.70,101.30 186.02,107.60 196.34,97.30 206.66,102.00 216.98,100.60 227.30,100.60 247.94,103.60 268.58,97.00 289.22,96.80 299.54,94.80 309.86,95.10 320.18,106.20 330.50,101.60 340.82,96.80 351.14,97.00" fill="none" stroke="#000" stroke-width="1.3"/>
<circle cx="93.14" cy="209.20" r="3.0" fill="#000"/>
<circle cx="103.46" cy="119.10" r="3.0" fill="#000"/>
<circle cx="124.10" cy="108.00" r="3.0" fill="#000"/>
<circle cx="134.42" cy="100.30" r="3.0" fill="#000"/>
<circle cx="144.74" cy="116.10" r="3.0" fill="#000"/>
<circle cx="175.70" cy="101.30" r="3.0" fill="#000"/>
<circle cx="186.02" cy="107.60" r="3.0" fill="#000"/>
<circle cx="196.34" cy="97.30" r="3.0" fill="#000"/>
<circle cx="206.66" cy="102.00" r="3.0" fill="#000"/>
<circle cx="216.98" cy="100.60" r="3.0" fill="#000"/>
<circle cx="227.30" cy="100.60" r="3.0" fill="#000"/>
<circle cx="247.94" cy="103.60" r="3.0" fill="#000"/>
<circle cx="268.58" cy="97.00" r="3.0" fill="#000"/>
<circle cx="289.22" cy="96.80" r="3.0" fill="#000"/>
<circle cx="299.54" cy="94.80" r="3.0" fill="#000"/>
<circle cx="309.86" cy="95.10" r="3.0" fill="#000"/>
<circle cx="320.18" cy="106.20" r="3.0" fill="#000"/>
<circle cx="330.50" cy="101.60" r="3.0" fill="#000"/>
<circle cx="340.82" cy="96.80" r="3.0" fill="#000"/>
<circle cx="351.14" cy="97.00" r="3.0" fill="#000"/>
</g>
<g transform="translate(394.2,0)">
<rect x="61.45" y="307.4" width="300.75" height="199.35000000000002" fill="none" stroke="#000" stroke-width="1.45"/>
<line x1="52.35" y1="314.55" x2="61.45" y2="314.55" stroke="#000" stroke-width="1.45"/>
<text transform="translate(46.0,314.55) rotate(-90)" text-anchor="middle" font-size="13.8" font-family="Liberation Sans, sans-serif">1.1</text>
<line x1="52.35" y1="351.5" x2="61.45" y2="351.5" stroke="#000" stroke-width="1.45"/>
<text transform="translate(46.0,351.5) rotate(-90)" text-anchor="middle" font-size="13.8" font-family="Liberation Sans, sans-serif">1.0</text>
<line x1="52.35" y1="388.45" x2="61.45" y2="388.45" stroke="#000" stroke-width="1.45"/>
<text transform="translate(46.0,388.45) rotate(-90)" text-anchor="middle" font-size="13.8" font-family="Liberation Sans, sans-serif">0.9</text>
<line x1="52.35" y1="425.4" x2="61.45" y2="425.4" stroke="#000" stroke-width="1.45"/>
<text transform="translate(46.0,425.4) rotate(-90)" text-anchor="middle" font-size="13.8" font-family="Liberation Sans, sans-serif">0.8</text>
<line x1="52.35" y1="462.35" x2="61.45" y2="462.35" stroke="#000" stroke-width="1.45"/>
<text transform="translate(46.0,462.35) rotate(-90)" text-anchor="middle" font-size="13.8" font-family="Liberation Sans, sans-serif">0.7</text>
<line x1="52.35" y1="499.3" x2="61.45" y2="499.3" stroke="#000" stroke-width="1.45"/>
<text transform="translate(46.0,499.3) rotate(-90)" text-anchor="middle" font-size="13.8" font-family="Liberation Sans, sans-serif">0.6</text>
<line x1="83.31" y1="506.75" x2="83.31" y2="516.15" stroke="#000" stroke-width="1.45"/>
<text x="83.31" y="533.15" text-anchor="middle" font-size="13.8" font-family="Liberation Sans, sans-serif">1985</text>
<line x1="136.86" y1="506.75" x2="136.86" y2="516.15" stroke="#000" stroke-width="1.45"/>
<text x="136.86" y="533.15" text-anchor="middle" font-size="13.8" font-family="Liberation Sans, sans-serif">1990</text>
<line x1="190.41" y1="506.75" x2="190.41" y2="516.15" stroke="#000" stroke-width="1.45"/>
<text x="190.41" y="533.15" text-anchor="middle" font-size="13.8" font-family="Liberation Sans, sans-serif">1995</text>
<line x1="243.96" y1="506.75" x2="243.96" y2="516.15" stroke="#000" stroke-width="1.45"/>
<text x="243.96" y="533.15" text-anchor="middle" font-size="13.8" font-family="Liberation Sans, sans-serif">2000</text>
<line x1="297.51" y1="506.75" x2="297.51" y2="516.15" stroke="#000" stroke-width="1.45"/>
<text x="297.51" y="533.15" text-anchor="middle" font-size="13.8" font-family="Liberation Sans, sans-serif">2005</text>
<line x1="351.06" y1="506.75" x2="351.06" y2="516.15" stroke="#000" stroke-width="1.45"/>
<text x="351.06" y="533.15" text-anchor="middle" font-size="13.8" font-family="Liberation Sans, sans-serif">2010</text>
<text x="211.82" y="296.3" text-anchor="middle" font-weight="bold" font-size="17" font-family="Liberation Sans, sans-serif">Santarem</text>
<text x="-1.90" y="310.20" font-weight="bold" font-size="20.2" font-family="Liberation Sans, sans-serif">(e)</text>
<text transform="translate(20.6,407.5) rotate(-90)" text-anchor="middle" font-size="19.2" font-family="Liberation Sans, sans-serif">CLUMPY</text>
<line x1="64.8" y1="324.65" x2="91.2" y2="324.65" stroke="#000" stroke-width="1.3"/>
<circle cx="78.00" cy="324.65" r="3.3" fill="none" stroke="#000" stroke-width="1.3"/>
<text x="93.0" y="329.45" font-size="13.8" font-family="Liberation Sans, sans-serif">MF</text>
<line x1="117.2" y1="324.65" x2="144.1" y2="324.65" stroke="#000" stroke-width="1.3"/>
<path d="M126.25 322.20L134.75 322.20L130.50 329.55Z" fill="none" stroke="#000" stroke-width="1.3" stroke-linejoin="round"/>
<text x="146.0" y="329.45" font-size="13.8" font-family="Liberation Sans, sans-serif">NF</text>
<line x1="170.0" y1="324.65" x2="196.4" y2="324.65" stroke="#000" stroke-width="1.3"/>
<circle cx="183.00" cy="324.65" r="3.0" fill="#000"/>
<text x="198.4" y="329.45" font-size="13.8" font-family="Liberation Sans, sans-serif">SF</text>
<polyline points="72.60,357.10 83.31,357.70 94.02,358.40 104.73,358.40 115.44,359.00 126.15,359.00 136.86,358.80 147.57,358.80 168.99,363.60 190.41,363.10 201.12,363.10 211.83,362.80 222.54,368.20 233.25,367.50 243.96,367.50 254.67,367.50 276.09,367.10 297.51,368.50 308.22,368.50 318.93,368.80 329.64,368.60 340.35,368.80 351.06,369.20" fill="none" stroke="#000" stroke-width="1.3"/>
<circle cx="72.60" cy="357.10" r="3.3" fill="none" stroke="#000" stroke-width="1.3"/>
<circle cx="83.31" cy="357.70" r="3.3" fill="none" stroke="#000" stroke-width="1.3"/>
<circle cx="94.02" cy="358.40" r="3.3" fill="none" stroke="#000" stroke-width="1.3"/>
<circle cx="104.73" cy="358.40" r="3.3" fill="none" stroke="#000" stroke-width="1.3"/>
<circle cx="115.44" cy="359.00" r="3.3" fill="none" stroke="#000" stroke-width="1.3"/>
<circle cx="126.15" cy="359.00" r="3.3" fill="none" stroke="#000" stroke-width="1.3"/>
<circle cx="136.86" cy="358.80" r="3.3" fill="none" stroke="#000" stroke-width="1.3"/>
<circle cx="147.57" cy="358.80" r="3.3" fill="none" stroke="#000" stroke-width="1.3"/>
<circle cx="168.99" cy="363.60" r="3.3" fill="none" stroke="#000" stroke-width="1.3"/>
<circle cx="190.41" cy="363.10" r="3.3" fill="none" stroke="#000" stroke-width="1.3"/>
<circle cx="201.12" cy="363.10" r="3.3" fill="none" stroke="#000" stroke-width="1.3"/>
<circle cx="211.83" cy="362.80" r="3.3" fill="none" stroke="#000" stroke-width="1.3"/>
<circle cx="222.54" cy="368.20" r="3.3" fill="none" stroke="#000" stroke-width="1.3"/>
<circle cx="233.25" cy="367.50" r="3.3" fill="none" stroke="#000" stroke-width="1.3"/>
<circle cx="243.96" cy="367.50" r="3.3" fill="none" stroke="#000" stroke-width="1.3"/>
<circle cx="254.67" cy="367.50" r="3.3" fill="none" stroke="#000" stroke-width="1.3"/>
<circle cx="276.09" cy="367.10" r="3.3" fill="none" stroke="#000" stroke-width="1.3"/>
<circle cx="297.51" cy="368.50" r="3.3" fill="none" stroke="#000" stroke-width="1.3"/>
<circle cx="308.22" cy="368.50" r="3.3" fill="none" stroke="#000" stroke-width="1.3"/>
<circle cx="318.93" cy="368.80" r="3.3" fill="none" stroke="#000" stroke-width="1.3"/>
<circle cx="329.64" cy="368.60" r="3.3" fill="none" stroke="#000" stroke-width="1.3"/>
<circle cx="340.35" cy="368.80" r="3.3" fill="none" stroke="#000" stroke-width="1.3"/>
<circle cx="351.06" cy="369.20" r="3.3" fill="none" stroke="#000" stroke-width="1.3"/>
<polyline points="72.60,479.40 83.31,412.90 94.02,406.10 104.73,430.90 115.44,396.00 126.15,410.10 136.86,493.20 147.57,415.00 168.99,461.70 190.41,410.50 201.12,410.00 211.83,420.90 222.54,490.20 233.25,456.50 243.96,410.00 254.67,420.00 276.09,403.00 297.51,378.60 308.22,381.40 318.93,387.70 329.64,381.70 340.35,388.20 351.06,391.00" fill="none" stroke="#000" stroke-width="1.3"/>
<path d="M68.35 476.95L76.85 476.95L72.60 484.30Z" fill="none" stroke="#000" stroke-width="1.3" stroke-linejoin="round"/>
<path d="M79.06 410.45L87.56 410.45L83.31 417.80Z" fill="none" stroke="#000" stroke-width="1.3" stroke-linejoin="round"/>
<path d="M89.77 403.65L98.27 403.65L94.02 411.00Z" fill="none" stroke="#000" stroke-width="1.3" stroke-linejoin="round"/>
<path d="M100.48 428.45L108.98 428.45L104.73 435.80Z" fill="none" stroke="#000" stroke-width="1.3" stroke-linejoin="round"/>
<path d="M111.19 393.55L119.69 393.55L115.44 400.90Z" fill="none" stroke="#000" stroke-width="1.3" stroke-linejoin="round"/>
<path d="M121.90 407.65L130.40 407.65L126.15 415.00Z" fill="none" stroke="#000" stroke-width="1.3" stroke-linejoin="round"/>
<path d="M132.61 490.75L141.11 490.75L136.86 498.10Z" fill="none" stroke="#000" stroke-width="1.3" stroke-linejoin="round"/>
<path d="M143.32 412.55L151.82 412.55L147.57 419.90Z" fill="none" stroke="#000" stroke-width="1.3" stroke-linejoin="round"/>
<path d="M164.74 459.25L173.24 459.25L168.99 466.60Z" fill="none" stroke="#000" stroke-width="1.3" stroke-linejoin="round"/>
<path d="M186.16 408.05L194.66 408.05L190.41 415.40Z" fill="none" stroke="#000" stroke-width="1.3" stroke-linejoin="round"/>
<path d="M196.87 407.55L205.37 407.55L201.12 414.90Z" fill="none" stroke="#000" stroke-width="1.3" stroke-linejoin="round"/>
<path d="M207.58 418.45L216.08 418.45L211.83 425.80Z" fill="none" stroke="#000" stroke-width="1.3" stroke-linejoin="round"/>
<path d="M218.29 487.75L226.79 487.75L222.54 495.10Z" fill="none" stroke="#000" stroke-width="1.3" stroke-linejoin="round"/>
<path d="M229.00 454.05L237.50 454.05L233.25 461.40Z" fill="none" stroke="#000" stroke-width="1.3" stroke-linejoin="round"/>
<path d="M239.71 407.55L248.21 407.55L243.96 414.90Z" fill="none" stroke="#000" stroke-width="1.3" stroke-linejoin="round"/>
<path d="M250.42 417.55L258.92 417.55L254.67 424.90Z" fill="none" stroke="#000" stroke-width="1.3" stroke-linejoin="round"/>
<path d="M271.84 400.55L280.34 400.55L276.09 407.90Z" fill="none" stroke="#000" stroke-width="1.3" stroke-linejoin="round"/>
<path d="M293.26 376.15L301.76 376.15L297.51 383.50Z" fill="none" stroke="#000" stroke-width="1.3" stroke-linejoin="round"/>
<path d="M303.97 378.95L312.47 378.95L308.22 386.30Z" fill="none" stroke="#000" stroke-width="1.3" stroke-linejoin="round"/>
<path d="M314.68 385.25L323.18 385.25L318.93 392.60Z" fill="none" stroke="#000" stroke-width="1.3" stroke-linejoin="round"/>
<path d="M325.39 379.25L333.89 379.25L329.64 386.60Z" fill="none" stroke="#000" stroke-width="1.3" stroke-linejoin="round"/>
<path d="M336.10 385.75L344.60 385.75L340.35 393.10Z" fill="none" stroke="#000" stroke-width="1.3" stroke-linejoin="round"/>
<path d="M346.81 388.55L355.31 388.55L351.06 395.90Z" fill="none" stroke="#000" stroke-width="1.3" stroke-linejoin="round"/>
<polyline points="72.60,408.00 83.31,418.10 94.02,415.20 104.73,389.90 115.44,436.90 126.15,398.10 136.86,409.60 147.57,399.40 168.99,402.00 190.41,407.00 201.12,423.00 211.83,404.20 222.54,400.10 233.25,450.70 243.96,411.70 254.67,406.70 276.09,417.50 297.51,413.30 308.22,409.30 318.93,401.30 329.64,404.20 340.35,399.10 351.06,399.10" fill="none" stroke="#000" stroke-width="1.3"/>
<circle cx="72.60" cy="408.00" r="3.0" fill="#000"/>
<circle cx="83.31" cy="418.10" r="3.0" fill="#000"/>
<circle cx="94.02" cy="415.20" r="3.0" fill="#000"/>
<circle cx="104.73" cy="389.90" r="3.0" fill="#000"/>
<circle cx="115.44" cy="436.90" r="3.0" fill="#000"/>
<circle cx="126.15" cy="398.10" r="3.0" fill="#000"/>
<circle cx="136.86" cy="409.60" r="3.0" fill="#000"/>
<circle cx="147.57" cy="399.40" r="3.0" fill="#000"/>
<circle cx="168.99" cy="402.00" r="3.0" fill="#000"/>
<circle cx="190.41" cy="407.00" r="3.0" fill="#000"/>
<circle cx="201.12" cy="423.00" r="3.0" fill="#000"/>
<circle cx="211.83" cy="404.20" r="3.0" fill="#000"/>
<circle cx="222.54" cy="400.10" r="3.0" fill="#000"/>
<circle cx="233.25" cy="450.70" r="3.0" fill="#000"/>
<circle cx="243.96" cy="411.70" r="3.0" fill="#000"/>
<circle cx="254.67" cy="406.70" r="3.0" fill="#000"/>
<circle cx="276.09" cy="417.50" r="3.0" fill="#000"/>
<circle cx="297.51" cy="413.30" r="3.0" fill="#000"/>
<circle cx="308.22" cy="409.30" r="3.0" fill="#000"/>
<circle cx="318.93" cy="401.30" r="3.0" fill="#000"/>
<circle cx="329.64" cy="404.20" r="3.0" fill="#000"/>
<circle cx="340.35" cy="399.10" r="3.0" fill="#000"/>
<circle cx="351.06" cy="399.10" r="3.0" fill="#000"/>
</g>
<g transform="translate(394.2,0)">
<rect x="61.45" y="585.65" width="300.75" height="199.35000000000002" fill="none" stroke="#000" stroke-width="1.45"/>
<line x1="52.35" y1="593.15" x2="61.45" y2="593.15" stroke="#000" stroke-width="1.45"/>
<text transform="translate(46.0,593.15) rotate(-90)" text-anchor="middle" font-size="13.8" font-family="Liberation Sans, sans-serif">1.1</text>
<line x1="52.35" y1="630.05" x2="61.45" y2="630.05" stroke="#000" stroke-width="1.45"/>
<text transform="translate(46.0,630.05) rotate(-90)" text-anchor="middle" font-size="13.8" font-family="Liberation Sans, sans-serif">1.0</text>
<line x1="52.35" y1="666.95" x2="61.45" y2="666.95" stroke="#000" stroke-width="1.45"/>
<text transform="translate(46.0,666.95) rotate(-90)" text-anchor="middle" font-size="13.8" font-family="Liberation Sans, sans-serif">0.9</text>
<line x1="52.35" y1="703.85" x2="61.45" y2="703.85" stroke="#000" stroke-width="1.45"/>
<text transform="translate(46.0,703.85) rotate(-90)" text-anchor="middle" font-size="13.8" font-family="Liberation Sans, sans-serif">0.8</text>
<line x1="52.35" y1="740.75" x2="61.45" y2="740.75" stroke="#000" stroke-width="1.45"/>
<text transform="translate(46.0,740.75) rotate(-90)" text-anchor="middle" font-size="13.8" font-family="Liberation Sans, sans-serif">0.7</text>
<line x1="52.35" y1="777.65" x2="61.45" y2="777.65" stroke="#000" stroke-width="1.45"/>
<text transform="translate(46.0,777.65) rotate(-90)" text-anchor="middle" font-size="13.8" font-family="Liberation Sans, sans-serif">0.6</text>
<line x1="72.45" y1="785.0" x2="72.45" y2="794.4" stroke="#000" stroke-width="1.45"/>
<text x="72.45" y="811.40" text-anchor="middle" font-size="13.8" font-family="Liberation Sans, sans-serif">1985</text>
<line x1="126.05" y1="785.0" x2="126.05" y2="794.4" stroke="#000" stroke-width="1.45"/>
<text x="126.05" y="811.40" text-anchor="middle" font-size="13.8" font-family="Liberation Sans, sans-serif">1990</text>
<line x1="179.65" y1="785.0" x2="179.65" y2="794.4" stroke="#000" stroke-width="1.45"/>
<text x="179.65" y="811.40" text-anchor="middle" font-size="13.8" font-family="Liberation Sans, sans-serif">1995</text>
<line x1="233.25" y1="785.0" x2="233.25" y2="794.4" stroke="#000" stroke-width="1.45"/>
<text x="233.25" y="811.40" text-anchor="middle" font-size="13.8" font-family="Liberation Sans, sans-serif">2000</text>
<line x1="286.85" y1="785.0" x2="286.85" y2="794.4" stroke="#000" stroke-width="1.45"/>
<text x="286.85" y="811.40" text-anchor="middle" font-size="13.8" font-family="Liberation Sans, sans-serif">2005</text>
<line x1="340.45" y1="785.0" x2="340.45" y2="794.4" stroke="#000" stroke-width="1.45"/>
<text x="340.45" y="811.40" text-anchor="middle" font-size="13.8" font-family="Liberation Sans, sans-serif">2010</text>
<text x="211.82" y="574.5" text-anchor="middle" font-weight="bold" font-size="17" font-family="Liberation Sans, sans-serif">Manaus</text>
<text x="-1.90" y="588.60" font-weight="bold" font-size="20.2" font-family="Liberation Sans, sans-serif">(f)</text>
<text transform="translate(20.6,685.7) rotate(-90)" text-anchor="middle" font-size="19.2" font-family="Liberation Sans, sans-serif">CLUMPY</text>
<line x1="64.8" y1="603.05" x2="91.2" y2="603.05" stroke="#000" stroke-width="1.3"/>
<circle cx="78.00" cy="603.05" r="3.3" fill="none" stroke="#000" stroke-width="1.3"/>
<text x="93.0" y="607.85" font-size="13.8" font-family="Liberation Sans, sans-serif">MF</text>
<line x1="117.2" y1="603.05" x2="144.1" y2="603.05" stroke="#000" stroke-width="1.3"/>
<path d="M126.25 600.60L134.75 600.60L130.50 607.95Z" fill="none" stroke="#000" stroke-width="1.3" stroke-linejoin="round"/>
<text x="146.0" y="607.85" font-size="13.8" font-family="Liberation Sans, sans-serif">NF</text>
<line x1="170.0" y1="603.05" x2="196.4" y2="603.05" stroke="#000" stroke-width="1.3"/>
<circle cx="183.00" cy="603.05" r="3.0" fill="#000"/>
<text x="198.4" y="607.85" font-size="13.8" font-family="Liberation Sans, sans-serif">SF</text>
<polyline points="72.45,633.30 104.61,633.80 115.33,634.00 136.77,634.80 147.49,635.30 168.93,635.40 179.65,635.40 190.37,635.50 222.53,636.80 243.97,637.80 254.69,637.90 265.41,638.30 297.57,639.20 308.29,639.30 319.01,639.30 329.73,639.40 340.45,639.50 351.17,639.80" fill="none" stroke="#000" stroke-width="1.3"/>
<circle cx="72.45" cy="633.30" r="3.3" fill="none" stroke="#000" stroke-width="1.3"/>
<circle cx="104.61" cy="633.80" r="3.3" fill="none" stroke="#000" stroke-width="1.3"/>
<circle cx="115.33" cy="634.00" r="3.3" fill="none" stroke="#000" stroke-width="1.3"/>
<circle cx="136.77" cy="634.80" r="3.3" fill="none" stroke="#000" stroke-width="1.3"/>
<circle cx="147.49" cy="635.30" r="3.3" fill="none" stroke="#000" stroke-width="1.3"/>
<circle cx="168.93" cy="635.40" r="3.3" fill="none" stroke="#000" stroke-width="1.3"/>
<circle cx="179.65" cy="635.40" r="3.3" fill="none" stroke="#000" stroke-width="1.3"/>
<circle cx="190.37" cy="635.50" r="3.3" fill="none" stroke="#000" stroke-width="1.3"/>
<circle cx="222.53" cy="636.80" r="3.3" fill="none" stroke="#000" stroke-width="1.3"/>
<circle cx="243.97" cy="637.80" r="3.3" fill="none" stroke="#000" stroke-width="1.3"/>
<circle cx="254.69" cy="637.90" r="3.3" fill="none" stroke="#000" stroke-width="1.3"/>
<circle cx="265.41" cy="638.30" r="3.3" fill="none" stroke="#000" stroke-width="1.3"/>
<circle cx="297.57" cy="639.20" r="3.3" fill="none" stroke="#000" stroke-width="1.3"/>
<circle cx="308.29" cy="639.30" r="3.3" fill="none" stroke="#000" stroke-width="1.3"/>
<circle cx="319.01" cy="639.30" r="3.3" fill="none" stroke="#000" stroke-width="1.3"/>
<circle cx="329.73" cy="639.40" r="3.3" fill="none" stroke="#000" stroke-width="1.3"/>
<circle cx="340.45" cy="639.50" r="3.3" fill="none" stroke="#000" stroke-width="1.3"/>
<circle cx="351.17" cy="639.80" r="3.3" fill="none" stroke="#000" stroke-width="1.3"/>
<polyline points="72.45,697.00 104.61,702.30 115.33,712.10 136.77,723.00 147.49,707.10 168.93,726.50 179.65,734.20 190.37,736.00 222.53,715.50 243.97,726.30 254.69,715.00 265.41,728.00 297.57,715.30 308.29,707.80 319.01,707.10 329.73,697.70 340.45,701.30 351.17,702.80" fill="none" stroke="#000" stroke-width="1.3"/>
<path d="M68.20 694.55L76.70 694.55L72.45 701.90Z" fill="none" stroke="#000" stroke-width="1.3" stroke-linejoin="round"/>
<path d="M100.36 699.85L108.86 699.85L104.61 707.20Z" fill="none" stroke="#000" stroke-width="1.3" stroke-linejoin="round"/>
<path d="M111.08 709.65L119.58 709.65L115.33 717.00Z" fill="none" stroke="#000" stroke-width="1.3" stroke-linejoin="round"/>
<path d="M132.52 720.55L141.02 720.55L136.77 727.90Z" fill="none" stroke="#000" stroke-width="1.3" stroke-linejoin="round"/>
<path d="M143.24 704.65L151.74 704.65L147.49 712.00Z" fill="none" stroke="#000" stroke-width="1.3" stroke-linejoin="round"/>
<path d="M164.68 724.05L173.18 724.05L168.93 731.40Z" fill="none" stroke="#000" stroke-width="1.3" stroke-linejoin="round"/>
<path d="M175.40 731.75L183.90 731.75L179.65 739.10Z" fill="none" stroke="#000" stroke-width="1.3" stroke-linejoin="round"/>
<path d="M186.12 733.55L194.62 733.55L190.37 740.90Z" fill="none" stroke="#000" stroke-width="1.3" stroke-linejoin="round"/>
<path d="M218.28 713.05L226.78 713.05L222.53 720.40Z" fill="none" stroke="#000" stroke-width="1.3" stroke-linejoin="round"/>
<path d="M239.72 723.85L248.22 723.85L243.97 731.20Z" fill="none" stroke="#000" stroke-width="1.3" stroke-linejoin="round"/>
<path d="M250.44 712.55L258.94 712.55L254.69 719.90Z" fill="none" stroke="#000" stroke-width="1.3" stroke-linejoin="round"/>
<path d="M261.16 725.55L269.66 725.55L265.41 732.90Z" fill="none" stroke="#000" stroke-width="1.3" stroke-linejoin="round"/>
<path d="M293.32 712.85L301.82 712.85L297.57 720.20Z" fill="none" stroke="#000" stroke-width="1.3" stroke-linejoin="round"/>
<path d="M304.04 705.35L312.54 705.35L308.29 712.70Z" fill="none" stroke="#000" stroke-width="1.3" stroke-linejoin="round"/>
<path d="M314.76 704.65L323.26 704.65L319.01 712.00Z" fill="none" stroke="#000" stroke-width="1.3" stroke-linejoin="round"/>
<path d="M325.48 695.25L333.98 695.25L329.73 702.60Z" fill="none" stroke="#000" stroke-width="1.3" stroke-linejoin="round"/>
<path d="M336.20 698.85L344.70 698.85L340.45 706.20Z" fill="none" stroke="#000" stroke-width="1.3" stroke-linejoin="round"/>
<path d="M346.92 700.35L355.42 700.35L351.17 707.70Z" fill="none" stroke="#000" stroke-width="1.3" stroke-linejoin="round"/>
<polyline points="72.45,719.10 104.61,708.00 115.33,702.80 136.77,693.80 147.49,698.90 168.93,698.90 179.65,694.20 190.37,686.60 222.53,696.20 243.97,700.70 254.69,705.80 265.41,691.80 297.57,691.60 308.29,691.90 319.01,690.50 329.73,694.10 340.45,692.60 351.17,692.60" fill="none" stroke="#000" stroke-width="1.3"/>
<circle cx="72.45" cy="719.10" r="3.0" fill="#000"/>
<circle cx="104.61" cy="708.00" r="3.0" fill="#000"/>
<circle cx="115.33" cy="702.80" r="3.0" fill="#000"/>
<circle cx="136.77" cy="693.80" r="3.0" fill="#000"/>
<circle cx="147.49" cy="698.90" r="3.0" fill="#000"/>
<circle cx="168.93" cy="698.90" r="3.0" fill="#000"/>
<circle cx="179.65" cy="694.20" r="3.0" fill="#000"/>
<circle cx="190.37" cy="686.60" r="3.0" fill="#000"/>
<circle cx="222.53" cy="696.20" r="3.0" fill="#000"/>
<circle cx="243.97" cy="700.70" r="3.0" fill="#000"/>
<circle cx="254.69" cy="705.80" r="3.0" fill="#000"/>
<circle cx="265.41" cy="691.80" r="3.0" fill="#000"/>
<circle cx="297.57" cy="691.60" r="3.0" fill="#000"/>
<circle cx="308.29" cy="691.90" r="3.0" fill="#000"/>
<circle cx="319.01" cy="690.50" r="3.0" fill="#000"/>
<circle cx="329.73" cy="694.10" r="3.0" fill="#000"/>
<circle cx="340.45" cy="692.60" r="3.0" fill="#000"/>
<circle cx="351.17" cy="692.60" r="3.0" fill="#000"/>
</g>
<text x="606.02" y="833.5" text-anchor="middle" font-size="22.2" font-family="Liberation Sans, sans-serif">Year</text>
</svg>
</body></html>
